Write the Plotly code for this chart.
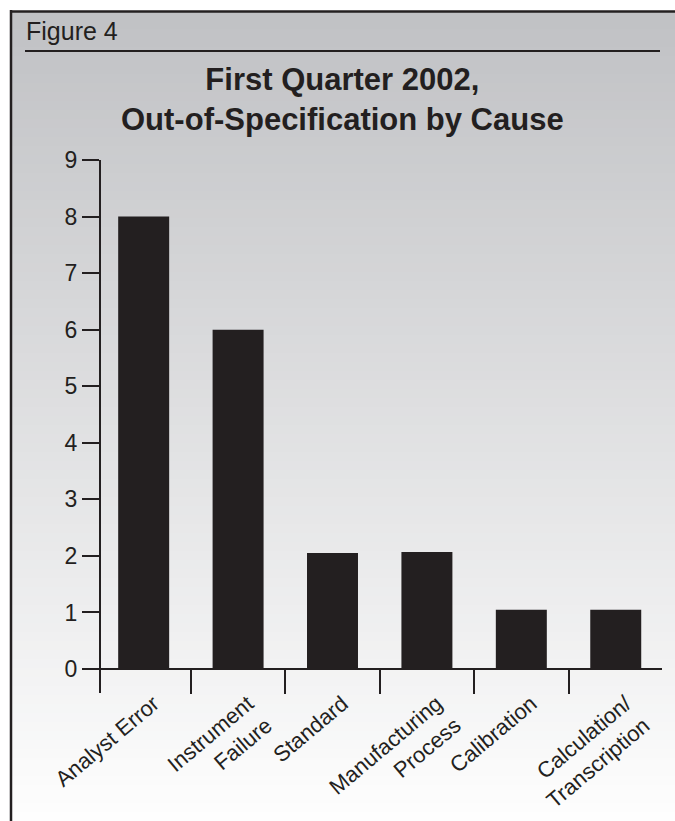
import plotly.graph_objects as go

categories = ["Analyst Error", "Instrument<br>Failure", "Standard",
              "Manufacturing<br>Process", "Calibration", "Calculation/<br>Transcription"]
values = [8, 6, 2.05, 2.07, 1.05, 1.05]
y_ticks = list(range(0, 10))

W, H = 675, 821
ML, MR, MT, MB = 101, 13, 160, 128
PW, PH = W - ML - MR, H - MT - MB

def px(p):
    return (p - ML) / PW

def py(p):
    return (H - MB - p) / PH

FONT = "Liberation Sans Narrow, Arial Narrow, Liberation Sans, Arial, sans-serif"
INK = "#231f20"

fig = go.Figure()
fig.add_trace(go.Bar(x=categories, y=values, marker=dict(color=INK, line=dict(width=0)),
                     width=0.54, hoverinfo="x+y"))

shapes = []
# vertical gradient background
top_c = (192, 193, 196)
bot_c = (254, 254, 254)
y_start, y_end = 11, 821
n = 90
for i in range(n):
    a = y_start + (y_end - y_start) * i / n
    b = y_start + (y_end - y_start) * (i + 1) / n
    t = (i + 0.5) / n
    c = tuple(round(top_c[k] + (bot_c[k] - top_c[k]) * t) for k in range(3))
    shapes.append(dict(type="rect", xref="paper", yref="paper", layer="below",
                       x0=px(11), x1=px(W), y0=py(min(b + 0.6, H)), y1=py(a),
                       fillcolor="rgb(%d,%d,%d)" % c, line=dict(width=0)))
# frame
shapes.append(dict(type="line", xref="paper", yref="paper", x0=px(10), x1=px(W),
                   y0=py(11.5), y1=py(11.5), line=dict(color=INK, width=2.5)))
shapes.append(dict(type="line", xref="paper", yref="paper", x0=px(11), x1=px(11),
                   y0=py(10), y1=py(H), line=dict(color=INK, width=2.5)))
# rule under "Figure 4"
shapes.append(dict(type="line", xref="paper", yref="paper", x0=px(25), x1=px(660),
                   y0=py(51), y1=py(51), line=dict(color=INK, width=2)))

annotations = [
    dict(text="Figure 4", xref="paper", yref="paper", x=px(24), y=py(31),
         xanchor="left", yanchor="middle", showarrow=False,
         font=dict(family=FONT, size=25, color=INK)),
    dict(text="<b>First Quarter 2002,<br>Out-of-Specification by Cause</b>",
         xref="paper", yref="paper", x=px(342), y=py(100),
         xanchor="center", yanchor="middle", showarrow=False,
         font=dict(family=FONT, size=31, color=INK)),
]

fig.update_layout(
    width=W, height=H,
    margin=dict(l=ML, r=MR, t=MT, b=MB, pad=0, autoexpand=False),
    paper_bgcolor="white", plot_bgcolor="rgba(0,0,0,0)",
    showlegend=False, shapes=shapes, annotations=annotations,
    font=dict(family=FONT, color=INK),
)
fig.update_xaxes(type="category", range=[-0.452, 5.49], anchor="free",
                 position=(H - MB - 669.3) / PH, automargin=False,
                 showline=True, linecolor=INK, linewidth=2,
                 ticks="outside", ticklen=24, tickwidth=2, tickcolor=INK,
                 tickson="boundaries", tickangle=-40,
                 ticklabelstandoff=12, ticklabelshift=10,
                 tickfont=dict(family=FONT, size=22, color=INK),
                 showgrid=False, zeroline=False)
fig.update_yaxes(range=[-0.424, 9], tickvals=y_ticks, ticktext=[str(v) for v in y_ticks],
                 automargin=False,
                 showline=True, linecolor=INK, linewidth=2,
                 ticks="outside", ticklen=17, tickwidth=2, tickcolor=INK,
                 tickfont=dict(family=FONT, size=23, color=INK),
                 showgrid=False, zeroline=False)

fig.write_html("out.html")
